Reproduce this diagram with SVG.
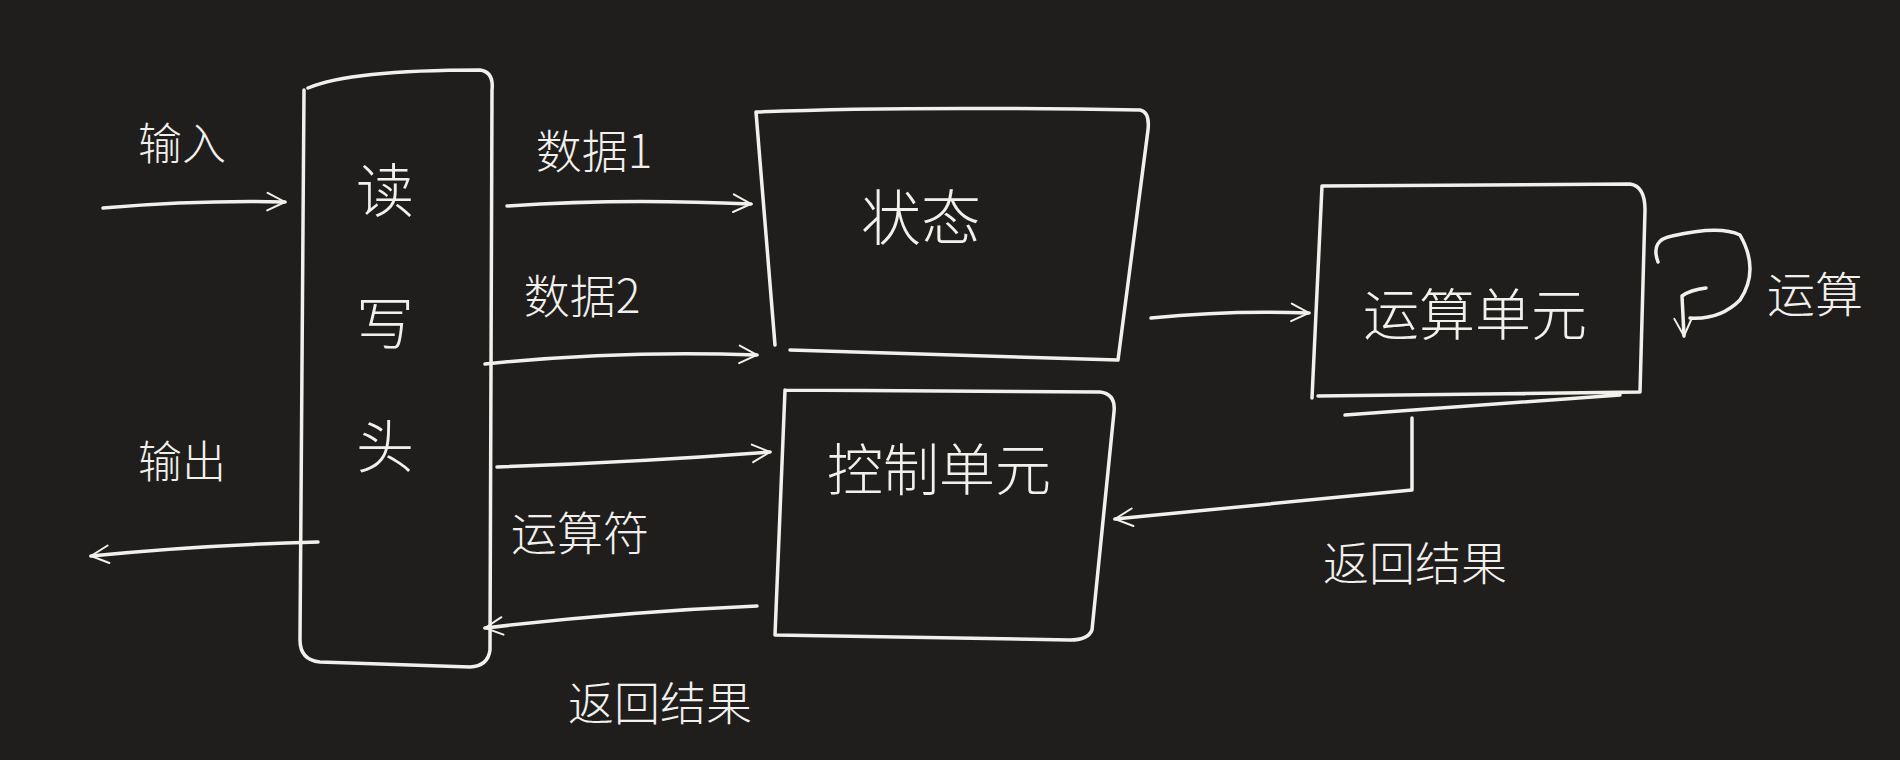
<svg xmlns="http://www.w3.org/2000/svg" width="1900" height="760" viewBox="0 0 1900 760">
<style>
.b{fill:none;stroke:#f2f0ec;stroke-width:3.5;stroke-linecap:round;stroke-linejoin:round}
.t{fill:#f2f0ec;font-family:"Noto Sans CJK SC",sans-serif;font-weight:300}
</style>
<defs><marker id="a" viewBox="0 0 20 20" refX="18" refY="10" markerWidth="22" markerHeight="22" markerUnits="userSpaceOnUse" orient="auto"><path d="M2,2 L18,10 L2,18" fill="none" stroke="#f2f0ec" stroke-width="1.8" stroke-linecap="round"/></marker></defs>
<rect width="1900" height="760" fill="#1f1e1d"/>
<g id="rw"><path class="b" d="M308,88 Q350,70 480,70 Q494,72 492,90 L490,650 Q488,666 470,667 L320,662 Q300,660 300,640 L304,90"/>
<text class="t" font-size="58" x="385" y="212" text-anchor="middle">读</text><text class="t" font-size="58" x="385" y="345" text-anchor="middle">写</text><text class="t" font-size="58" x="385" y="468" text-anchor="middle">头</text></g>
<g id="state"><path class="b" d="M756,112 Q900,106 1140,110 Q1150,112 1148,130 L1118,360 L790,350 M756,112 L775,345"/><text class="t" font-size="60" x="921" y="240" text-anchor="middle">状态</text></g>
<g id="ctrl"><path class="b" d="M785,390 L1100,392 Q1116,394 1114,412 L1092,630 Q1088,640 1070,640 L775,635 L785,390"/><text class="t" font-size="56" x="939" y="490" text-anchor="middle">控制单元</text></g>
<g id="alu"><path class="b" d="M1322,186 L1630,184 Q1645,186 1645,210 L1640,392 L1318,396 M1322,186 L1312,398 M1345,415 L1620,395"/><text class="t" font-size="56" x="1475" y="335" text-anchor="middle">运算单元</text></g>
<g id="labels">
<text class="t" font-size="44" x="182" y="160" text-anchor="middle">输入</text>
<text class="t" font-size="44" x="182" y="478" text-anchor="middle">输出</text>
<text class="t" font-size="46" x="594" y="168" text-anchor="middle">数据1</text>
<text class="t" font-size="46" x="582" y="313" text-anchor="middle">数据2</text>
<text class="t" font-size="46" x="580" y="550" text-anchor="middle">运算符</text>
<text class="t" font-size="46" x="660" y="720" text-anchor="middle">返回结果</text>
<text class="t" font-size="46" x="1415" y="580" text-anchor="middle">返回结果</text>
<text class="t" font-size="48" x="1815" y="312" text-anchor="middle">运算</text>
</g>
<g id="connectors">
<path class="b" marker-end="url(#a)" d="M103,208 Q200,200 285,202"/>
<path class="b" marker-end="url(#a)" d="M318,542 Q200,545 91,556"/>
<path class="b" marker-end="url(#a)" d="M507,206 Q620,198 751,204"/>
<path class="b" marker-end="url(#a)" d="M485,364 Q620,350 757,355"/>
<path class="b" marker-end="url(#a)" d="M497,467 Q640,462 770,452"/>
<path class="b" marker-end="url(#a)" d="M757,606 Q620,612 485,628"/>
<path class="b" marker-end="url(#a)" d="M1151,318 Q1230,310 1309,313"/>
<path class="b" marker-end="url(#a)" d="M1412,418 L1412,490 L1115,519"/>
<path class="b" d="M1658,262 Q1650,240 1672,236 Q1720,225 1740,235 Q1760,270 1740,300 Q1720,320 1690,318"/>
<path class="b" marker-end="url(#a)" d="M1706,288 Q1690,290 1682,296 L1684,336"/>
</g>
</svg>
